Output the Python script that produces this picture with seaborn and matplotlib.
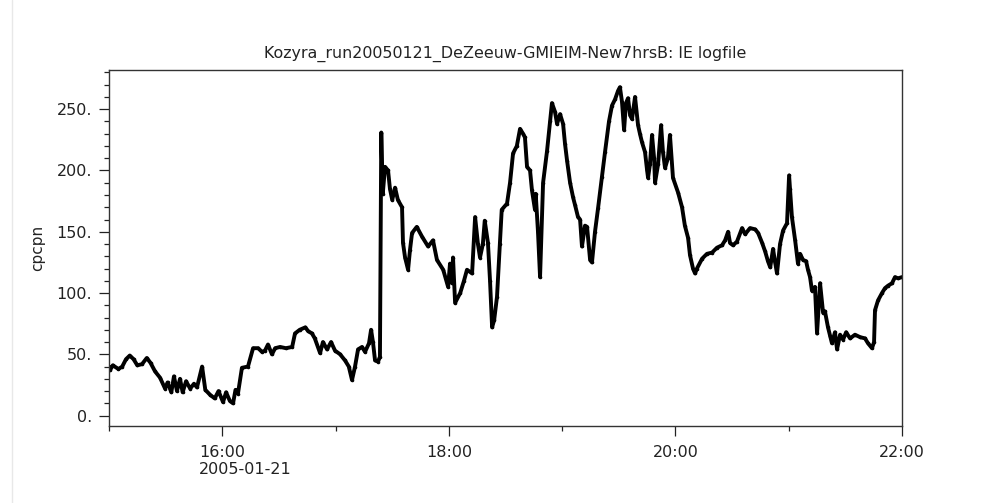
import matplotlib
matplotlib.use("Agg")
import matplotlib.pyplot as plt
import matplotlib.dates as mdates
from matplotlib.ticker import MultipleLocator, FuncFormatter
from matplotlib.lines import Line2D
import pandas as pd
import seaborn as sns

# IE logfile: cross polar cap potential, sampled on 2005-01-21
minutes_after_1500 = [
    0, 0.5, 2, 5, 7, 9, 11, 13, 15, 17.5, 20, 22, 24.4, 27, 29.7, 31, 33, 34.4, 36, 37.6,
    39, 40.8, 43, 45, 46.6, 49.3, 51, 53.5, 56, 58, 60.4, 62, 64, 65.7, 67, 68.3, 70.4, 73.6,
    76.3, 79, 81, 82.6, 84.2, 86.3, 88, 90.6, 93.7, 97, 98.5, 101, 104, 105.4, 107.5, 109,
    111.8, 113.3, 115.5, 117.6, 119.7, 122.4, 125, 127, 128.7, 130.3, 131.9, 134, 135.6,
    137.7, 138.8, 139.8, 140.9, 142.5, 143.5, 144.2, 145, 146.2, 147.8, 148.8, 150, 151.5,
    153, 155.2, 155.7, 156.8, 158.4, 159.4, 160.5, 163, 165.8, 169, 171.6, 173.7, 177,
    179.6, 180.6, 181.7, 182.2, 183.3, 186, 188, 189.6, 192.3, 193.9, 195.4, 196.5, 198,
    199, 200.7, 201.8, 202.9, 204, 205.5, 207, 208, 210.8, 212.4, 214, 216, 217.7, 219.3,
    220.3, 221.4, 223, 224, 225.6, 226, 227.2, 228.3, 229.9, 232, 233.6, 234.6, 236.2,
    237.3, 238.9, 240.5, 241.5, 242.6, 244.2, 245.8, 246.8, 248.4, 249.5, 250.5, 252.1,
    253.2, 254.8, 255.8, 257.4, 259, 261.1, 262.7, 264.8, 266.4, 268, 269.6, 270.6, 271.7,
    272.8, 273.8, 274.9, 276, 277, 278.6, 280.2, 281.2, 282.3, 283.9, 285, 285.5, 286.5,
    287.6, 288.7, 289.2, 290.8, 292.4, 293.4, 294.5, 296, 297.1, 298.7, 301.4, 303.5, 305,
    306.7, 307.7, 309.3, 310.4, 311.4, 314.1, 316.7, 319.4, 322, 324.7, 326.3, 327.9,
    328.9, 330.5, 332.6, 335.3, 336.9, 339.5, 342.2, 343.8, 345.9, 347.5, 349, 350.2,
    351.7, 352.8, 353.8, 355.4, 357, 359.1, 360.2, 360.7, 361.7, 363.4, 364.9, 366, 367.6,
    369.2, 370.2, 371.3, 372.3, 373.9, 375, 376.6, 378.2, 379.2, 380.8, 381.9, 382.9,
    384.5, 385.6, 387.2, 388.8, 390.4, 392.5, 395.1, 397.8, 400.4, 402, 404.1, 405.2,
    405.7, 407.3, 409.4, 411, 412.6, 414.7, 416.3, 417.9, 420,
]
cpcpn = [
    40, 37, 41, 38, 40, 46, 49, 46, 41, 42, 47, 43, 36, 31, 22, 27, 19, 32, 20, 30,
    19, 28, 22, 26, 23, 40, 21, 17, 14, 20, 11, 19, 12, 10, 21, 18, 39, 40,
    55, 55, 52, 53, 58, 50, 55, 56, 55, 56, 67, 70, 72, 69, 67, 63,
    51, 60, 54, 60, 53, 50, 45, 40, 29, 40, 54, 56, 52,
    59, 70, 60, 45, 44, 48, 231, 181, 203, 200, 185, 176, 186,
    176, 170, 141, 129, 119, 135, 149, 154, 146, 138, 143, 127, 119,
    105, 124, 108, 129, 92, 100, 110, 119, 116, 162, 140, 129, 140,
    159, 141, 110, 72, 78, 97, 140, 168, 173, 190, 214, 220, 234, 230,
    227, 203, 200, 184, 168, 181, 150, 113, 190, 216, 240, 255, 248,
    238, 246, 238, 222, 208, 190, 178, 172, 162, 160, 138, 155,
    154, 127, 125, 150, 169, 195, 215, 240, 253, 258, 265, 268, 256,
    233, 255, 259, 245, 242, 260, 237, 230, 223, 215, 200, 194, 205,
    229, 210, 190, 205, 237, 215, 202, 210, 229, 194, 182, 170, 155,
    145, 131, 120, 116, 120, 128, 132, 133, 137, 139, 143, 150,
    141, 139, 142, 153, 148, 153, 152, 149, 141, 134, 126, 121,
    136, 125, 116, 140, 151, 157, 196, 185, 162, 143, 124, 132, 127,
    126, 119, 113, 102, 105, 67, 108, 84, 85, 72, 65, 59,
    68, 54, 66, 62, 68, 63, 66, 64, 63, 59, 55, 60,
    86, 94, 100, 104, 106, 108, 113, 112, 113,
]

y_ticks = [0, 50, 100, 150, 200, 250]
run_title = "Kozyra_run20050121_DeZeeuw-GMIEIM-New7hrsB: IE logfile"
run_date = "2005-01-21"

start = pd.Timestamp(f"{run_date} 15:00")
df = pd.DataFrame({
    "time": start + pd.to_timedelta(minutes_after_1500, unit="min"),
    "cpcpn": cpcpn,
})

sns.set_style("ticks")
plt.rcParams["font.family"] = ["DejaVu Sans"]
ink = "#222222"

fig = plt.figure(figsize=(10.01, 5.03), dpi=100)
ax = fig.add_axes([0.1089, 0.1531, 0.7922, 0.7077])

sns.lineplot(data=df, x="time", y="cpcpn", ax=ax, color="black", linewidth=2.8,
             marker="o", markersize=2.6, markeredgewidth=0, estimator=None, sort=False)

ax.set_xlim(start, start + pd.Timedelta(hours=7))
ax.set_ylim(-8.5, 282)

ax.set_yticks(y_ticks)
ax.yaxis.set_major_formatter(FuncFormatter(lambda v, p: f"{v:.0f}."))
ax.yaxis.set_minor_locator(MultipleLocator(10))

ax.xaxis.set_major_locator(mdates.HourLocator(byhour=[16, 18, 20, 22]))
ax.xaxis.set_minor_locator(mdates.HourLocator(byhour=[15, 17, 19, 21]))
ax.xaxis.set_major_formatter(mdates.DateFormatter("%H:%M"))

ax.tick_params(axis="both", which="major", direction="out", length=7.2, width=0.9,
               color=ink, labelsize=11.5, labelcolor=ink)
ax.tick_params(axis="x", which="major", pad=6.5)
ax.tick_params(axis="y", which="major", pad=5)
ax.tick_params(axis="both", which="minor", direction="out", length=3.6, width=0.9,
               color=ink)

for side in ["top", "right", "bottom", "left"]:
    ax.spines[side].set_visible(True)
    ax.spines[side].set_color("#333333")
    ax.spines[side].set_linewidth(1.0)

ax.set_xlabel("")
ax.set_ylabel("cpcpn", fontsize=11, color=ink, labelpad=8)
ax.set_title(run_title, fontsize=11.4, color=ink, pad=9)

# date line under the first time label, flush with its left edge
fig.canvas.draw()
first = ax.get_xticklabels()[0]
bb = first.get_window_extent(renderer=fig.canvas.get_renderer())
fig.text(bb.x0 / fig.bbox.width, (bb.y0 - 2) / fig.bbox.height, run_date,
         ha="left", va="top", fontsize=11.5, color=ink)

# faint panel edge on the left
fig.add_artist(Line2D([12 / 1001, 12 / 1001], [0, 1], transform=fig.transFigure,
                      color="#e8e8e8", linewidth=1.0))

fig.savefig("out.png", dpi=100, facecolor="white")
